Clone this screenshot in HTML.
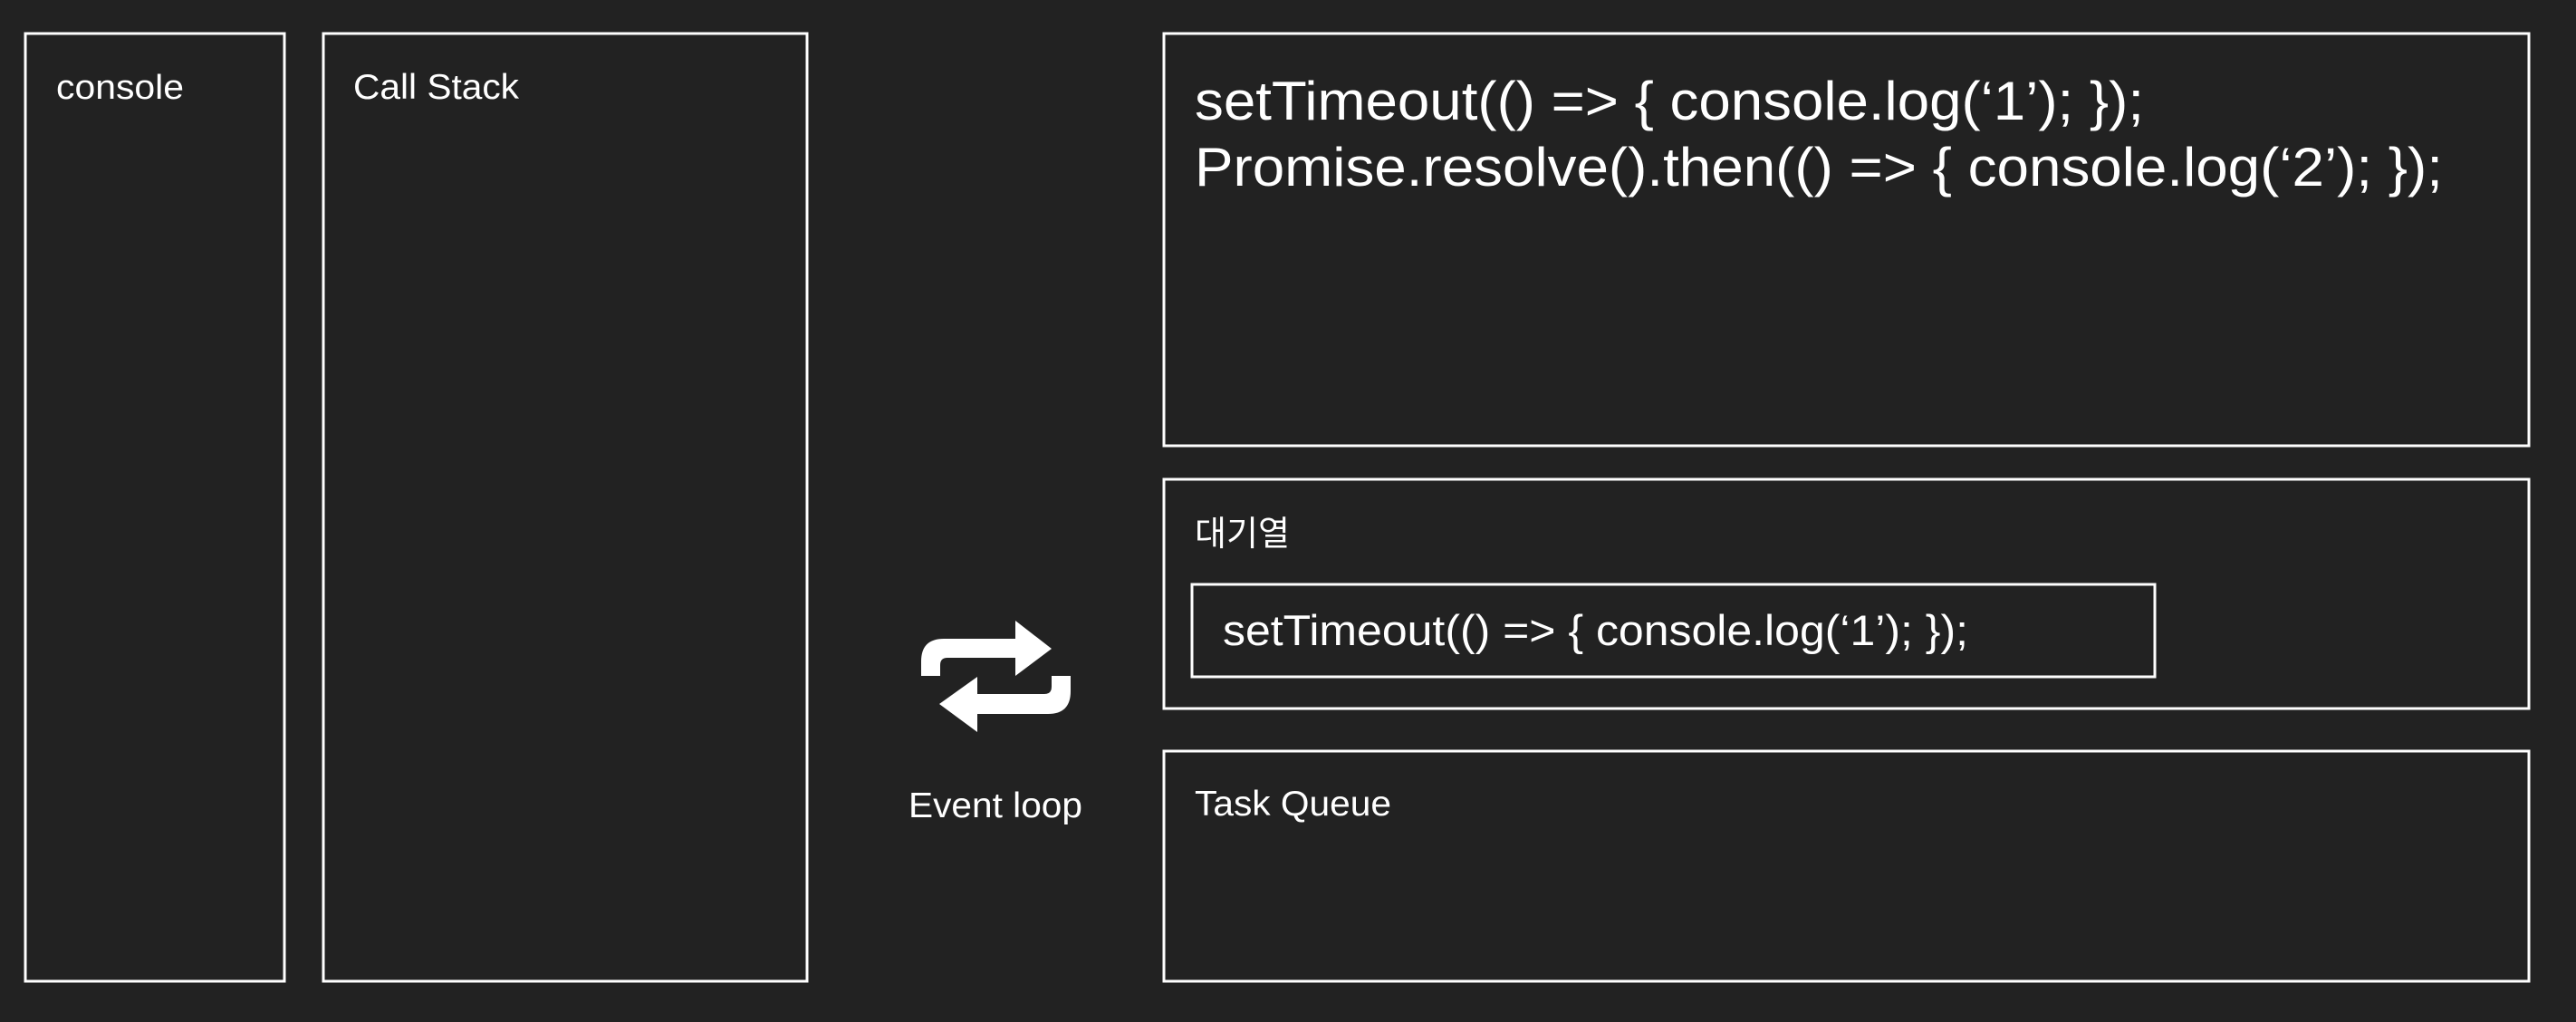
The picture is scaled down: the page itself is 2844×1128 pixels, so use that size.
<!DOCTYPE html>
<html><head><meta charset="utf-8"><style>
html,body{margin:0;padding:0;background:#222222;}
svg{display:block;}
text{fill:#ffffff;font-family:"Liberation Sans","Noto Sans CJK KR",sans-serif;}
</style></head><body>
<svg width="2844" height="1128" viewBox="0 0 2844 1128" xmlns="http://www.w3.org/2000/svg">
<rect width="2844" height="1128" fill="#222222"/>
<g fill="none" stroke="#ffffff" stroke-width="3">
<rect x="28" y="37" width="286" height="1046"/>
<rect x="357" y="37" width="534" height="1046"/>
<rect x="1285" y="37" width="1507" height="455"/>
<rect x="1285" y="529" width="1507" height="253"/>
<rect x="1316" y="645" width="1063" height="102"/>
<rect x="1285" y="829" width="1507" height="254"/>
</g>
<text x="62" y="109" font-size="38" textLength="141" lengthAdjust="spacingAndGlyphs">console</text>
<text x="390" y="109" font-size="39" textLength="183" lengthAdjust="spacingAndGlyphs">Call Stack</text>
<text x="1319" y="132" font-size="60" textLength="1048" lengthAdjust="spacingAndGlyphs">setTimeout(() =&gt; { console.log(‘1’); });</text>
<text x="1319" y="205" font-size="60" textLength="1378" lengthAdjust="spacingAndGlyphs">Promise.resolve().then(() =&gt; { console.log(‘2’); });</text>
<text x="1319" y="602" font-size="38" textLength="105" lengthAdjust="spacingAndGlyphs">대기열</text>
<text x="1350" y="712" font-size="47" textLength="823" lengthAdjust="spacingAndGlyphs">setTimeout(() =&gt; { console.log(‘1’); });</text>
<text x="1319" y="900" font-size="39" textLength="217" lengthAdjust="spacingAndGlyphs">Task Queue</text>
<text x="1003" y="902" font-size="39" textLength="192" lengthAdjust="spacingAndGlyphs">Event loop</text>
<path fill="#ffffff" d="M1017,746 L1017,730 Q1017,705 1042,705 L1121,705 L1121,685 L1161,716 L1121,746 L1121,726 L1046,726 Q1038,726 1038,734 L1038,746 Z"/>
<path fill="#ffffff" d="M1182,746 L1182,763 Q1182,788 1157,788 L1079,788 L1079,808 L1037,777 L1079,747 L1079,766 L1153,766 Q1161,766 1161,758 L1161,746 Z"/>
</svg>
</body></html>
